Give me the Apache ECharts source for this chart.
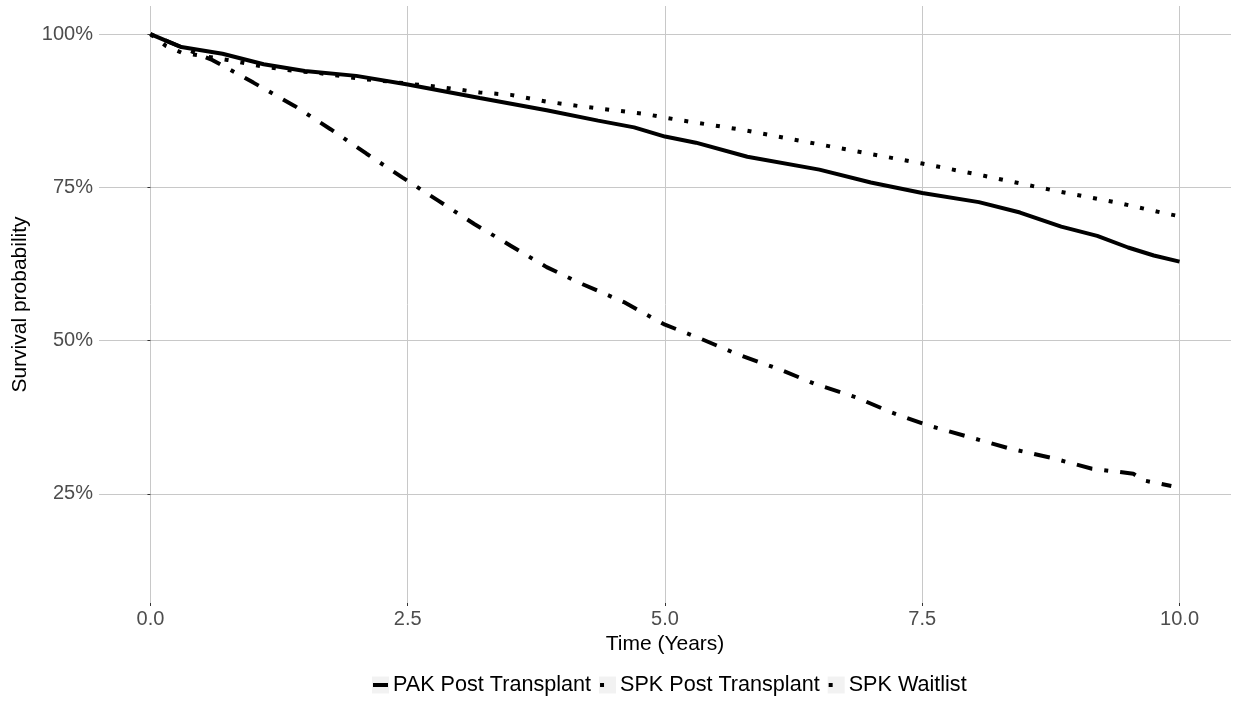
<!DOCTYPE html>
<html>
<head>
<meta charset="utf-8">
<title>Survival probability</title>
<script src="https://cdn.jsdelivr.net/npm/echarts@6/dist/echarts.min.js"></script>
<style>
    html, body { margin: 0; padding: 0; background: #fff; }
    #chart { width: 1241px; height: 702px; }
</style>
</head>
<body>
<div id="chart"></div>
<script>
// time (years) and survival (%)
var pakTimes = [0, 0.3, 0.7, 1.1, 1.5, 2.0, 2.5, 3.2, 3.85, 4.35, 4.7, 5.0, 5.3, 5.8, 6.5, 7.0, 7.5, 8.05, 8.45, 8.85, 9.2, 9.5, 9.75, 10];
var pakValues = [100, 97.9, 96.8, 95.1, 94.0, 93.2, 91.8, 89.6, 87.6, 85.9, 84.8, 83.3, 82.3, 80.0, 77.9, 75.8, 74.1, 72.6, 70.9, 68.6, 67.1, 65.2, 63.9, 62.9];

var spkTimes = [0, 0.15, 0.3, 0.45, 0.75, 1.1, 1.4, 1.6, 2.05, 2.25, 2.85, 3.2, 3.5, 3.85, 4.15, 4.5, 4.8, 5.1, 5.75, 6.35, 7.0, 7.5, 8.1, 8.75, 9.4, 9.85, 10];
var spkValues = [100, 98.1, 97.0, 96.6, 95.8, 94.7, 94.0, 93.75, 92.7, 92.4, 91.3, 90.5, 90.1, 89.0, 88.3, 87.6, 87.0, 86.1, 84.4, 82.5, 80.45, 78.9, 76.9, 74.6, 72.5, 70.8, 70.3];

var waitTimes = [0, 0.6, 1.0, 1.4, 1.75, 2.1, 2.45, 2.8, 3.15, 3.5, 3.85, 4.2, 4.6, 5.0, 5.35, 5.7, 6.1, 6.45, 6.85, 7.2, 7.55, 7.95, 8.35, 8.75, 9.15, 9.55, 9.65, 9.92];
var waitValues = [100, 95.8, 92.1, 88.3, 84.5, 80.5, 76.6, 72.8, 69.0, 65.5, 62.0, 59.2, 56.3, 52.6, 50.3, 47.8, 45.4, 43.0, 40.8, 38.3, 36.2, 34.3, 32.4, 30.9, 29.1, 28.3, 27.2, 26.3];

var seriesNames = ['PAK Post Transplant', 'SPK Post Transplant', 'SPK Waitlist'];
var xTicks = [0, 2.5, 5, 7.5, 10];
var yTicks = [25, 50, 75, 100];

var FONT = 'Liberation Sans';
var dashes = ['solid', [4, 12], [4, 12, 16, 12]];

function pairs(xs, ys) {
    var out = [];
    for (var i = 0; i < xs.length; i++) {
        out.push([xs[i], ys[i]]);
    }
    return out;
}

// legend drawn by hand: grey key box, line sample, label
var legendFont = 21.6, keySize = 17, textGap = 4, itemGap = 8, legendMid = 685, legendCenter = 669;
var ctx = document.createElement('canvas').getContext('2d');
ctx.font = legendFont + 'px "' + FONT + '"';
var widths = seriesNames.map(function (n) { return ctx.measureText(n).width; });
var total = 0;
for (var i = 0; i < widths.length; i++) {
    total += keySize + textGap + widths[i] + (i ? itemGap : 0);
}
var legendItems = [], cx = Math.round(legendCenter - total / 2);
for (i = 0; i < widths.length; i++) {
    var keyTop = legendMid - keySize / 2;
    legendItems.push({
        type: 'rect',
        shape: {x: cx, y: keyTop, width: keySize, height: keySize},
        style: {fill: '#f2f2f2'},
        silent: true
    });
    var lineStyle = {stroke: '#000', lineWidth: 4, lineCap: 'butt'};
    if (dashes[i] !== 'solid') {
        lineStyle.lineDash = dashes[i];
    }
    legendItems.push({
        type: 'line',
        shape: {x1: cx + 1, y1: legendMid, x2: cx + keySize - 1, y2: legendMid},
        style: lineStyle,
        silent: true
    });
    legendItems.push({
        type: 'text',
        x: cx + keySize + textGap,
        y: legendMid,
        style: {
            text: seriesNames[i],
            fontFamily: FONT,
            fontSize: legendFont,
            fill: '#000',
            verticalAlign: 'middle',
            align: 'left'
        },
        silent: true
    });
    cx += keySize + textGap + widths[i] + itemGap;
}

var chart = echarts.init(document.getElementById('chart'));

var lineBase = {type: 'line', symbol: 'none', silent: true, animation: false};

var option = {
    backgroundColor: '#ffffff',
    textStyle: {fontFamily: FONT},
    grid: {left: 99, right: 10, top: 6, bottom: 99, containLabel: false, outerBoundsMode: 'none'},
    graphic: legendItems,
    xAxis: {
        type: 'value',
        min: -0.5,
        max: 10.5,
        name: 'Time (Years)',
        nameLocation: 'middle',
        nameGap: 25,
        nameTextStyle: {fontFamily: FONT, fontSize: 21, color: '#000'},
        axisLine: {show: false},
        axisTick: {show: true, length: 3, lineStyle: {color: '#333'}, customValues: xTicks},
        axisLabel: {
            color: '#4d4d4d', fontSize: 20, margin: 6, fontFamily: FONT,
            customValues: xTicks,
            formatter: function (v) { return v.toFixed(1); }
        },
        splitLine: {show: true, lineStyle: {color: '#c8c8c8', width: 1}}
    },
    yAxis: {
        type: 'value',
        min: 7.2,
        max: 104.6,
        name: 'Survival probability',
        nameLocation: 'middle',
        nameGap: 67,
        nameTextStyle: {fontFamily: FONT, fontSize: 21, color: '#000'},
        axisLine: {show: false},
        axisTick: {show: true, length: 3, lineStyle: {color: '#333'}, customValues: yTicks},
        axisLabel: {
            color: '#4d4d4d', fontSize: 20, margin: 6, fontFamily: FONT,
            customValues: yTicks,
            formatter: function (v) { return v + '%'; }
        },
        splitLine: {show: true, lineStyle: {color: '#c8c8c8', width: 1}}
    },
    series: [0, 1, 2].map(function (k) {
        var xs = [pakTimes, spkTimes, waitTimes][k], ys = [pakValues, spkValues, waitValues][k];
        return Object.assign({}, lineBase, {
            name: seriesNames[k],
            data: pairs(xs, ys),
            lineStyle: {color: '#000', width: 4, type: dashes[k], cap: 'butt'},
            itemStyle: {color: '#000'}
        });
    })
};

chart.setOption(option);
</script>
</body>
</html>
